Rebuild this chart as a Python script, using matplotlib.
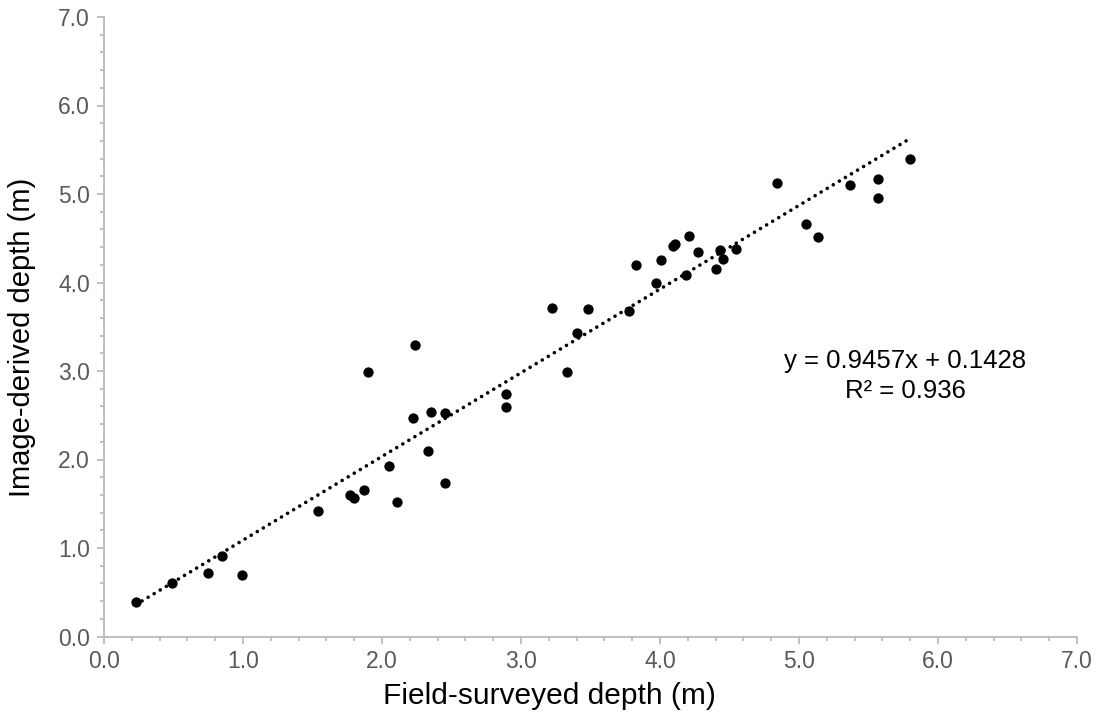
import matplotlib
matplotlib.use("Agg")
import matplotlib.pyplot as plt
import numpy as np
from matplotlib.ticker import MultipleLocator, FormatStrFormatter

plt.rcParams['font.family'] = ['Liberation Sans', 'DejaVu Sans']

field_depth = [0.23, 0.49, 0.75, 0.85, 0.99, 1.54, 1.77, 1.80, 1.87, 1.90,
               2.05, 2.11, 2.22, 2.235, 2.33, 2.35, 2.45, 2.45, 2.89, 2.89,
               3.22, 3.33, 3.40, 3.48, 3.78, 3.83, 3.97, 4.01, 4.09, 4.11,
               4.19, 4.21, 4.27, 4.40, 4.43, 4.45, 4.55, 4.84, 5.05, 5.14,
               5.37, 5.57, 5.57, 5.80]
image_depth = [0.39, 0.60, 0.72, 0.91, 0.69, 1.42, 1.60, 1.57, 1.66, 2.99,
               1.93, 1.52, 2.47, 3.29, 2.10, 2.54, 2.52, 1.74, 2.74, 2.59,
               3.71, 2.99, 3.43, 3.70, 3.68, 4.20, 4.00, 4.25, 4.41, 4.43,
               4.08, 4.53, 4.34, 4.15, 4.37, 4.27, 4.38, 5.12, 4.66, 4.51,
               5.10, 5.17, 4.95, 5.40]
slope = 0.9457
intercept = 0.1428
r2_text = "R² = 0.936"
eq_text = "y = 0.9457x + 0.1428"

fig = plt.figure(figsize=(11.05, 7.27), dpi=100)
ax = fig.add_axes([104/1105, 1-636.5/727, (1077-104)/1105, (636.5-17)/727])

xs = np.array([min(field_depth), max(field_depth)])
ax.plot(xs, slope*xs + intercept, color='black', lw=2.6,
        linestyle=(0, (0.01, 1.95)), dash_capstyle='round', zorder=2)
ax.scatter(field_depth, image_depth, s=55, color='black', zorder=3, linewidths=0)

ax.set_xlim(0, 7)
ax.set_ylim(0, 7)
ax.xaxis.set_major_locator(MultipleLocator(1))
ax.yaxis.set_major_locator(MultipleLocator(1))
ax.xaxis.set_minor_locator(MultipleLocator(0.2))
ax.yaxis.set_minor_locator(MultipleLocator(0.2))
ax.xaxis.set_major_formatter(FormatStrFormatter('%.1f'))
ax.yaxis.set_major_formatter(FormatStrFormatter('%.1f'))

for s in ['top', 'right']:
    ax.spines[s].set_visible(False)
for s in ['left', 'bottom']:
    ax.spines[s].set_color('#bfbfbf')
    ax.spines[s].set_linewidth(1.4)

ax.tick_params(which='major', direction='out', length=5, width=1.4, color='#bfbfbf',
               labelsize=16.5, labelcolor='#595959', pad=5)
ax.tick_params(which='minor', direction='out', length=3, width=1.4, color='#bfbfbf')

fig.text(549/1105, 1-696/727, "Field-surveyed depth (m)", ha='center', va='center',
         fontsize=21.5, color='black')
fig.text(22/1105, 1-337/727, "Image-derived depth (m)", ha='center', va='center',
         fontsize=21, color='black', rotation=90)

ax.text(905/1105, 1-368/727, eq_text, transform=fig.transFigure, ha='center', va='baseline',
        fontsize=18.5, color='black')
ax.text(905/1105, 1-397.5/727, r2_text, transform=fig.transFigure, ha='center', va='baseline',
        fontsize=18.5, color='black')

fig.savefig("out.png", dpi=100)
